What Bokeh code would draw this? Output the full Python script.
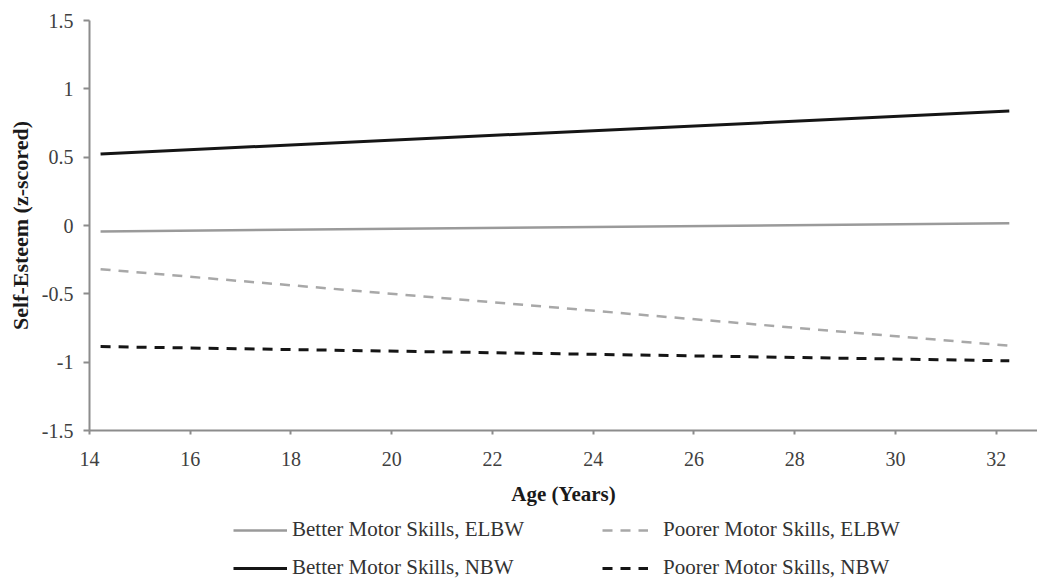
from bokeh.plotting import figure
from bokeh.models import Range1d, Legend, LegendItem, FixedTicker
from bokeh.layouts import column
from bokeh.embed import file_html
from bokeh.resources import INLINE

# ---- data ----
age = [14.22, 32.26]
better_elbw = [-0.044, 0.017]
poorer_elbw = [-0.32, -0.88]
better_nbw = [0.524, 0.837]
poorer_nbw = [-0.886, -0.99]

x_ticks = [14, 16, 18, 20, 22, 24, 26, 28, 30, 32]
y_ticks = [-1.5, -1, -0.5, 0, 0.5, 1, 1.5]
y_tick_labels = {-1.5: "-1.5", -1: "-1", -0.5: "-0.5", 0: "0", 0.5: "0.5", 1: "1", 1.5: "1.5"}

labels = ["Better Motor Skills, ELBW", "Poorer Motor Skills, ELBW",
          "Better Motor Skills, NBW", "Poorer Motor Skills, NBW"]

FONT = "Liberation Serif"
series = [better_elbw, poorer_elbw, better_nbw, poorer_nbw]
styles = [dict(line_color="#9a9a9a", line_width=2.5),
          dict(line_color="#a8a8a8", line_width=2.5, line_dash="10 8"),
          dict(line_color="#151515", line_width=3),
          dict(line_color="#151515", line_width=3, line_dash="10 8")]

p = figure(width=1037, height=508, output_backend="svg", toolbar_location=None,
           x_range=Range1d(14, 32.82), y_range=Range1d(-1.5, 1.5),
           min_border_left=89, min_border_right=0, min_border_top=20, min_border_bottom=76)
p.outline_line_color = None
p.grid.visible = False

for ys, st in zip(series, styles):
    p.line(age, ys, **st)

for ax in (p.xaxis[0], p.yaxis[0]):
    ax.axis_line_color = "#8c8c8c"
    ax.axis_line_width = 2
    ax.major_tick_line_color = "#8c8c8c"
    ax.major_tick_line_width = 2
    ax.minor_tick_line_color = None
    ax.major_tick_in = 0
    ax.major_label_text_font = FONT
    ax.major_label_text_font_size = "20px"
    ax.major_label_text_color = "#404040"
    ax.axis_label_text_font = FONT
    ax.axis_label_text_font_style = "bold"
    ax.axis_label_text_color = "#1a1a1a"

p.xaxis.axis_label_text_font_size = "21px"
p.yaxis.axis_label_text_font_size = "22px"
p.xaxis.ticker = FixedTicker(ticks=x_ticks)
p.yaxis.ticker = FixedTicker(ticks=y_ticks)
p.yaxis.major_label_overrides = y_tick_labels
p.xaxis.major_tick_out = 4
p.yaxis.major_tick_out = 6
p.xaxis.major_label_standoff = 17
p.yaxis.major_label_standoff = 10
p.xaxis.axis_label = "Age (Years)"
p.yaxis.axis_label = "Self-Esteem (z-scored)"
p.xaxis.axis_label_standoff = 13
p.yaxis.axis_label_standoff = 6

# legend strip below the chart (same series drawn outside its visible range)
lg = figure(width=1037, height=73, output_backend="svg", toolbar_location=None,
            x_range=Range1d(0, 1), y_range=Range1d(0, 1),
            x_axis_location=None, y_axis_location=None,
            min_border_left=0, min_border_right=0, min_border_top=0, min_border_bottom=0)
lg.outline_line_color = None
lg.grid.visible = False
proxies = [lg.line(age, ys, **st) for ys, st in zip(series, styles)]


def make_legend(idx, loc, glyph_w, standoff):
    return Legend(items=[LegendItem(label=labels[i], renderers=[proxies[i]]) for i in idx],
                  location=loc, orientation="vertical",
                  glyph_width=glyph_w, glyph_height=20, label_height=20,
                  label_standoff=standoff, spacing=13, padding=0, margin=0,
                  border_line_alpha=0, background_fill_alpha=0,
                  label_text_font=FONT, label_text_font_size="21px",
                  label_text_color="#333333")


lg.add_layout(make_legend([0, 2], (144, 1), 54, 5), "center")
lg.add_layout(make_legend([1, 3], (513, 1), 46, 15), "center")

layout = column(p, lg, spacing=0)
open("out.html", "w").write(file_html(layout, INLINE))
